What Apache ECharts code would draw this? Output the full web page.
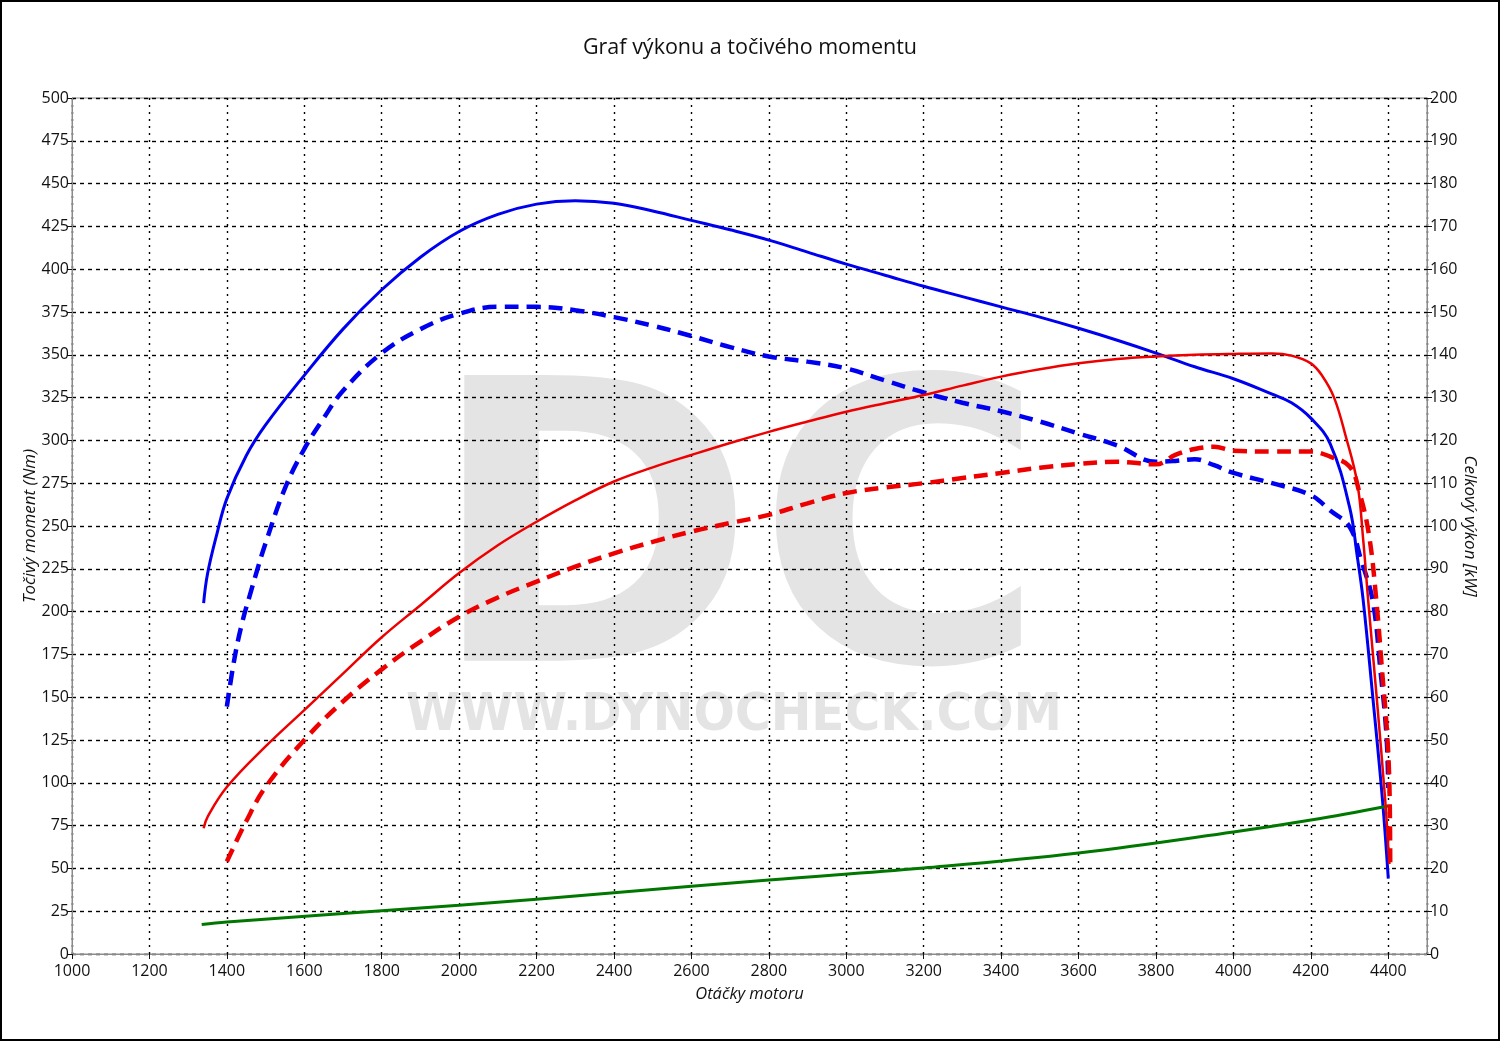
<!DOCTYPE html>
<html>
<head>
<meta charset="utf-8">
<script src="https://cdn.jsdelivr.net/npm/echarts@6/dist/echarts.min.js"></script>
<style>
html,body{margin:0;padding:0;background:#fff;}
#chart{width:1500px;height:1041px;}
</style>
</head>
<body>
<div id="chart"></div>
<script>
// ---- Data ----
const titleText = 'Graf výkonu a točivého momentu';
const xAxisName = 'Otáčky motoru';
const leftAxisName = 'Točivý moment (Nm)';
const rightAxisName = 'Celkový výkon [kW]';

// Tuned torque (Nm) – blue solid
const torqueTunedRpm = [1340,1350,1375,1400,1450,1500,1600,1700,1800,1900,2000,2100,2200,2300,2400,2500,2600,2700,2800,2900,3000,3100,3200,3300,3400,3500,3600,3700,3800,3900,4000,4100,4150,4200,4250,4300,4320,4335,4360,4385,4400];
const torqueTuned    = [205,222,246,266,291,309,338,365,388,407,422,432,438,440,438.5,434,428.5,423,417,410,403,396.5,390,384,378,372,365.5,358.5,351,343,336,327,322,313,298,261,232,207,150,90,44];

// Stock torque (Nm) – blue dashed
const torqueStockRpm = [1400,1420,1440,1460,1480,1500,1550,1600,1650,1700,1800,1900,2000,2100,2200,2300,2400,2500,2600,2700,2800,2900,3000,3100,3200,3300,3400,3500,3600,3700,3800,3850,3900,3950,4000,4100,4200,4250,4300,4330,4360,4380,4395,4400];
const torqueStock    = [144.5,173,194,210,225.5,240,272,295,313,329,351,365,374,378,378,376,372,367,361,354.5,349,346,342,335,328,322,317,311,304,297,287.5,288,289,285.5,281,275,268,259,249.6,230,206,165,129,97];

// Tuned power (kW) – red solid
const powerTunedRpm = [1340,1350,1400,1500,1600,1700,1800,1900,2000,2100,2200,2300,2400,2500,2600,2700,2800,2900,3000,3100,3200,3300,3400,3500,3600,3700,3800,3900,4000,4100,4150,4200,4230,4260,4290,4320,4335,4348,4370,4392,4400,4403];
const powerTuned    = [29.4,32,39,48.5,57,65.5,74,81.5,89,95.5,101,106,110.4,113.7,116.6,119.4,122,124.4,126.7,128.7,130.6,132.8,134.9,136.6,138,139,139.6,140,140.2,140.3,139.8,138,135,130,121,110,97,82.7,60,36,25,21];

// Stock power (kW) – red dashed
const powerStockRpm = [1400,1450,1500,1600,1700,1800,1900,2000,2100,2200,2300,2400,2500,2600,2700,2800,2900,3000,3100,3200,3300,3400,3500,3600,3700,3800,3850,3900,3950,4000,4100,4200,4250,4300,4325,4350,4369,4385,4397,4403,4405];
const powerStock    = [21.6,31,39,50,59,66.5,73,78.8,83.3,87,90.5,93.6,96.3,98.7,100.7,102.6,105.3,107.7,109,110,111.2,112.4,113.6,114.5,115,114.4,116.6,118,118.5,117.6,117.4,117.4,116.2,113.9,108,98,82.7,65,51.6,39,21];

// Loss power (kW) – green
const lossRpm = [1335,1400,2000,2400,2800,3200,3600,4000,4200,4400];
const loss    = [6.9,7.5,11.4,14.3,17.3,20.1,23.6,28.5,31.3,34.6];

const toPairs = (xs, ys) => xs.map((x, i) => [x, ys[i]]);

const FONT = '"Open Sans", "Noto Sans", sans-serif';
const chart = echarts.init(document.getElementById('chart'), null, {renderer: 'canvas'});

const option = {
  backgroundColor: '#ffffff',
  animation: false,
  title: {
    text: titleText,
    left: 'center',
    top: 32,
    textStyle: {fontFamily: FONT, fontSize: 21.5, fontWeight: 'normal', color: '#111'}
  },
  grid: {
    left: 72, right: 73, top: 98, bottom: 87,
    show: true, borderColor: '#8a8a8a', borderWidth: 1, backgroundColor: 'transparent'
  },
  xAxis: {
    type: 'value', min: 1000, max: 4500, interval: 200,
    name: xAxisName, nameLocation: 'middle', nameGap: 32, nameMoveOverlap: false,
    nameTextStyle: {fontFamily: FONT, fontSize: 16.5, fontStyle: 'italic', color: '#111'},
    axisLine: {show: true, lineStyle: {color: '#8a8a8a', width: 1}},
    axisTick: {show: true, length: 5, lineStyle: {color: '#111', width: 1}},
    axisLabel: {showMaxLabel: false, fontFamily: FONT, fontSize: 16, color: '#111', margin: 9,
      formatter: v => String(v)},
    splitLine: {show: true, lineStyle: {color: '#000', width: 1.4, type: [2, 5]}}
  },
  yAxis: [
    {
      type: 'value', min: 0, max: 500, interval: 25, position: 'left',
      name: leftAxisName, nameLocation: 'middle', nameGap: 33, nameMoveOverlap: false,
      nameTextStyle: {fontFamily: FONT, fontSize: 17, fontStyle: 'italic', color: '#111'},
      axisLine: {show: true, lineStyle: {color: '#8a8a8a', width: 1}},
      axisTick: {show: true, length: 5, lineStyle: {color: '#111', width: 1}},
      axisLabel: {fontFamily: FONT, fontSize: 16, color: '#111', margin: 3, formatter: v => String(v)},
      splitLine: {show: true, lineStyle: {color: '#000', width: 1.4, type: [4, 4]}}
    },
    {
      type: 'value', min: 0, max: 200, interval: 10, position: 'right',
      name: rightAxisName, nameLocation: 'middle', nameGap: 34, nameRotate: -90, nameMoveOverlap: false,
      nameTextStyle: {fontFamily: FONT, fontSize: 17, fontStyle: 'italic', color: '#111'},
      axisLine: {show: true, lineStyle: {color: '#8a8a8a', width: 1}},
      axisTick: {show: true, length: 5, lineStyle: {color: '#111', width: 1}},
      axisLabel: {fontFamily: FONT, fontSize: 16, color: '#111', margin: 3, formatter: v => String(v)},
      splitLine: {show: false}
    }
  ],
  graphic: [
    {
      type: 'text', z: -10,
      x: 737, y: 559, scaleX: 1.12,
      style: {text: 'DC', fill: '#e4e4e4', font: 'bold 392px "DejaVu Sans Condensed", "DejaVu Sans", sans-serif', textAlign: 'center', textVerticalAlign: 'middle'}
    },
    {
      type: 'text', z: -10,
      x: 734, y: 716, scaleX: 1.04,
      style: {text: 'WWW.DYNOCHECK.COM', fill: '#e4e4e4', font: 'bold 52px "DejaVu Sans Condensed", "DejaVu Sans", sans-serif', textAlign: 'center', textVerticalAlign: 'middle'}
    },
    {
      type: 'rect', z: 100, silent: true,
      shape: {x: 1, y: 1, width: 1498, height: 1039},
      style: {fill: null, stroke: '#000', lineWidth: 2}
    }
  ],
  series: [
    {
      name: 'torqueTuned', type: 'line', yAxisIndex: 0, data: toPairs(torqueTunedRpm, torqueTuned),
      showSymbol: false, smooth: 0.4, z: 3,
      lineStyle: {color: '#0000f0', width: 3}
    },
    {
      name: 'torqueStock', type: 'line', yAxisIndex: 0, data: toPairs(torqueStockRpm, torqueStock),
      showSymbol: false, smooth: 0.4, z: 3,
      lineStyle: {color: '#0000f0', width: 4.5, type: [14, 8]}
    },
    {
      name: 'powerTuned', type: 'line', yAxisIndex: 1, data: toPairs(powerTunedRpm, powerTuned),
      showSymbol: false, smooth: 0.4, z: 4,
      lineStyle: {color: '#ee0000', width: 2.5}
    },
    {
      name: 'powerStock', type: 'line', yAxisIndex: 1, data: toPairs(powerStockRpm, powerStock),
      showSymbol: false, smooth: 0.4, z: 4,
      lineStyle: {color: '#ee0000', width: 4.5, type: [14, 8]}
    },
    {
      name: 'loss', type: 'line', yAxisIndex: 1, data: toPairs(lossRpm, loss),
      showSymbol: false, smooth: 0.4, z: 3,
      lineStyle: {color: '#007800', width: 3}
    }
  ]
};
chart.setOption(option);
</script>
</body>
</html>
